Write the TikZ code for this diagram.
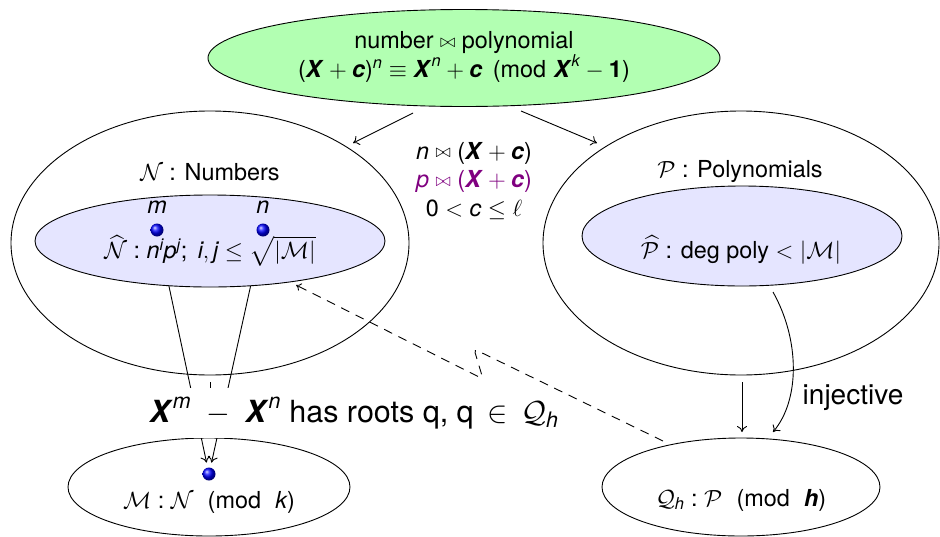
\documentclass[tikz,border=0pt]{standalone}
\usepackage{amsmath}
\usepackage{graphicx}
\usepackage[no-math]{fontspec}
\setmainfont{TeX Gyre Heros}
\DeclareSymbolFont{operators}{TU}{\rmdefault}{m}{n}
\SetSymbolFont{operators}{bold}{TU}{\rmdefault}{b}{n}
\DeclareFontShape{OML}{cmm}{m}{it}{<-6>cmmi5<6-7>cmmi6<7-8>cmmi7<8-9>cmmi8<9-10>cmmi9<10-12>cmmi10<12->cmmi12}{}
\DeclareFontShape{OMS}{cmsy}{m}{n}{<-6>cmsy5<6-7>cmsy6<7-8>cmsy7<8-9>cmsy8<9-10>cmsy9<10->cmsy10}{}
\DeclareFontShape{OT1}{cmr}{m}{n}{<-6>cmr5<6-7>cmr6<7-8>cmr7<8-9>cmr8<9-10>cmr9<10-12>cmr10<12->cmr12}{}
\DeclareSymbolFont{cmrops}{OT1}{cmr}{m}{n}
\DeclareMathSymbol{+}{\mathbin}{cmrops}{"2B}
\usetikzlibrary{shapes.geometric,arrows.meta}
\pgfdeclarelayer{bg}
\pgfsetlayers{bg,main}
\newcommand\vi[1]{\textit{#1}}
\newcommand\vb[1]{\textbf{\textit{#1}}}
\newcommand\bt{\mathrel{\vcenter{\hbox{\scalebox{0.8}{$\bowtie$}}}}}
\tikzset{
  oval/.style={ellipse, draw, line width=0.9pt, inner sep=0pt},
  dot/.style={circle, ball color=blue, minimum size=13pt, inner sep=0pt},
  arr/.style={line width=0.9pt, -{To[length=6pt,width=10pt]}},
  lbl/.style={inner sep=0pt, align=center},
  dashline/.style={line width=0.9pt, dash pattern=on 9pt off 7pt, rounded corners=4pt, -{To[length=5pt,width=8pt]}},
}
\begin{document}
\begin{tikzpicture}[x=1pt,y=-1pt,line width=0.9pt,font=\fontsize{23.4}{28.5}\selectfont]
\useasboundingbox (0,0) rectangle (940,536);
\begin{pgfonlayer}{bg}
\fill[white] (0,0) rectangle (940,536);
\end{pgfonlayer}
% top
\node[oval, fill=green!30, minimum width=512pt, minimum height=97pt] (top) at (464,58) {};
\node[lbl] (toptxt) at (464,57) {number $\bt$ polynomial\\$(\vb X+\vb c)^{\vi n}\equiv \vb X^{\vi n}+\vb c\pmod{\vb X^{\vi k}-\textbf{1}}$};
% numbers
\node[oval, minimum width=398pt, minimum height=264pt] (N) at (210,243) {};
\node[lbl] (Nlbl) at (210,172) {$\mathcal N$ : Numbers};
\node[oval, fill=blue!10, minimum width=350pt, minimum height=92pt] (Nh) at (210,241) {};
\node[lbl] (Nhtxt) at (210,251) {$\widehat{\mathcal N}:\vi n^{\vi i}\vi p^{\vi j};\ \vi i,\vi j\le\sqrt{|\mathcal M|}$};
\node[lbl] (mlbl) at (157,207) {\vi{m}};
\node[lbl] (nlbl) at (263,207) {\vi{n}};
\node[dot] (md) at (157,230) {};
\node[dot] (nd) at (263,230) {};
% middle
\node[lbl] (mid) at (474,181) {$\vi n\bt(\vb X+\vb c)$\\\textcolor{violet}{$\vi p\bt(\vb X+\vb c)$}\\$0<\vi c\le\ell$};
% polynomials
\node[oval, minimum width=396pt, minimum height=264pt] (P) at (741,243) {};
\node[lbl] (Plbl) at (740,172) {$\mathcal P$ : Polynomials};
\node[oval, fill=blue!10, minimum width=320pt, minimum height=100pt] (Ph) at (742,236) {};
\node[lbl] (Phtxt) at (741,250) {$\widehat{\mathcal P}$ : deg poly $<|\mathcal M|$};
% M
\node[oval, minimum width=282pt, minimum height=98pt] (M) at (209,487) {};
\node[dot] (Md) at (209,474) {};
\node[lbl] (Mtxt) at (209,502) {$\mathcal M:\mathcal N\,\pmod{\;\vi k}$};
% Q
\node[oval, minimum width=278pt, minimum height=98pt] (Q) at (741,487) {};
\node[lbl] (Qtxt) at (741,500) {$\mathcal Q_{\vi h}:\mathcal P\,\pmod{\;\vb h}$};
% roots text
\node[fill=white, inner xsep=2pt, inner ysep=0pt, minimum height=50pt, font=\fontsize{30.5}{36}\selectfont] (roots) at (354,413) {$\vb X^{\vi m}\;-\;\vb X^{\vi n}$ has roots q, q $\,\in\,$ $\mathcal Q_{\vi h}$};
% arrows from top
\coordinate (t1) at (413,113); \coordinate (t2) at (353,143);
\coordinate (t3) at (521,111); \coordinate (t4) at (597,143);
\draw[arr] (t1) -- (t2);
\draw[arr] (t3) -- (t4);
% lines to M dot
\begin{pgfonlayer}{bg}
\draw[arr, shorten >=5pt] (md) -- (Md);
\draw[arr, shorten >=5pt] (nd) -- (Md);
\end{pgfonlayer}
\coordinate (tk) at (210,382);
\draw (tk) -- (tk |- roots.north);
% injective
\coordinate (i1) at (773,292); \coordinate (i2) at (773,432);
\draw[arr] (i1) .. controls (800,340) and (800,400) .. (i2);
\node[font=\fontsize{28}{33}\selectfont, inner sep=0pt] (inj) at (853,398) {injective};
\coordinate (s1) at (742,382); \coordinate (s2) at (742,432);
\draw[arr] (s1) -- (s2);
% dashed
\coordinate (d0) at (663,441); \coordinate (d1) at (474,349);
\coordinate (d2) at (483,379); \coordinate (d3) at (296,285);
\draw[dashline] (d0) -- (d1) -- (d2) -- (d3);
\end{tikzpicture}
\end{document}
